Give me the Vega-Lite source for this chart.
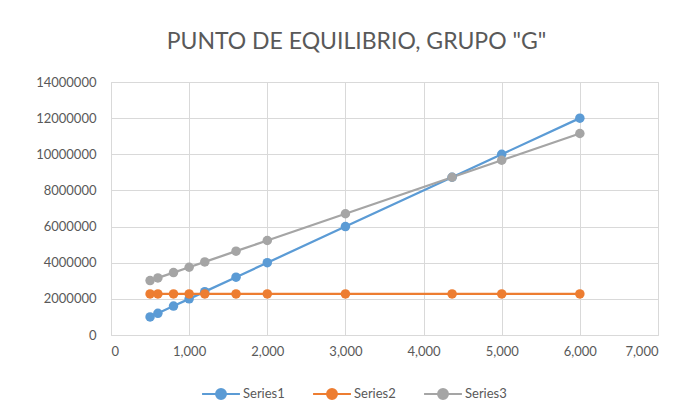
{
  "$schema": "https://vega.github.io/schema/vega-lite/v6.json",
  "autosize": {"type": "none"},
  "width": 547,
  "height": 253,
  "padding": {"left": 111, "top": 82, "right": 30, "bottom": 85},
  "background": "white",
  "title": {
    "text": "PUNTO DE EQUILIBRIO, GRUPO \"G\"",
    "font": "Lato",
    "fontSize": 23,
    "fontWeight": "normal",
    "color": "#595959",
    "anchor": "middle",
    "dx": -28,
    "offset": 22
  },
  "data": {
    "values": [
      {"x": 500, "y": 1000000, "s": "Series1"},
      {"x": 600, "y": 1200000, "s": "Series1"},
      {"x": 800, "y": 1600000, "s": "Series1"},
      {"x": 1000, "y": 2000000, "s": "Series1"},
      {"x": 1200, "y": 2400000, "s": "Series1"},
      {"x": 1600, "y": 3200000, "s": "Series1"},
      {"x": 2000, "y": 4000000, "s": "Series1"},
      {"x": 3000, "y": 6000000, "s": "Series1"},
      {"x": 4365, "y": 8730000, "s": "Series1"},
      {"x": 5000, "y": 10000000, "s": "Series1"},
      {"x": 6000, "y": 12000000, "s": "Series1"},
      {"x": 500, "y": 2270000, "s": "Series2"},
      {"x": 600, "y": 2270000, "s": "Series2"},
      {"x": 800, "y": 2270000, "s": "Series2"},
      {"x": 1000, "y": 2270000, "s": "Series2"},
      {"x": 1200, "y": 2270000, "s": "Series2"},
      {"x": 1600, "y": 2270000, "s": "Series2"},
      {"x": 2000, "y": 2270000, "s": "Series2"},
      {"x": 3000, "y": 2270000, "s": "Series2"},
      {"x": 4365, "y": 2270000, "s": "Series2"},
      {"x": 5000, "y": 2270000, "s": "Series2"},
      {"x": 6000, "y": 2270000, "s": "Series2"},
      {"x": 500, "y": 3010000, "s": "Series3"},
      {"x": 600, "y": 3158000, "s": "Series3"},
      {"x": 800, "y": 3454000, "s": "Series3"},
      {"x": 1000, "y": 3750000, "s": "Series3"},
      {"x": 1200, "y": 4046000, "s": "Series3"},
      {"x": 1600, "y": 4638000, "s": "Series3"},
      {"x": 2000, "y": 5230000, "s": "Series3"},
      {"x": 3000, "y": 6710000, "s": "Series3"},
      {"x": 4365, "y": 8730000, "s": "Series3"},
      {"x": 5000, "y": 9670000, "s": "Series3"},
      {"x": 6000, "y": 11150000, "s": "Series3"}
    ]
  },
  "mark": {
    "type": "line",
    "strokeWidth": 2.25,
    "point": {"size": 90, "filled": true, "opacity": 1}
  },
  "encoding": {
    "x": {
      "field": "x",
      "type": "quantitative",
      "scale": {"domain": [0, 7000], "nice": false},
      "axis": {
        "title": null,
        "values": [0, 1000, 2000, 3000, 4000, 5000, 6000, 7000],
        "format": ",.0f",
        "labelPadding": 10
      }
    },
    "y": {
      "field": "y",
      "type": "quantitative",
      "scale": {"domain": [0, 14000000], "nice": false},
      "axis": {
        "title": null,
        "values": [0, 2000000, 4000000, 6000000, 8000000, 10000000, 12000000, 14000000],
        "format": "d",
        "labelPadding": 15
      }
    },
    "color": {
      "field": "s",
      "type": "nominal",
      "scale": {
        "domain": ["Series1", "Series2", "Series3"],
        "range": ["#5B9BD5", "#ED7D31", "#A5A5A5"]
      },
      "legend": {
        "title": null,
        "orient": "none",
        "direction": "horizontal",
        "legendX": 97,
        "legendY": 299,
        "symbolType": "M-1.6,0H1.6M0.42,0A0.42,0.42,0,1,1,-0.42,0A0.42,0.42,0,1,1,0.42,0",
        "symbolSize": 560,
        "symbolStrokeWidth": 2,
        "symbolFillColor": null,
        "columnPadding": 24,
        "labelOffset": 9
      }
    },
    "order": {"field": "x", "type": "quantitative"}
  },
  "config": {
    "view": {"stroke": "#D9D9D9", "strokeWidth": 1},
    "axis": {
      "labelFont": "Lato",
      "labelFontSize": 13,
      "labelColor": "#595959",
      "gridColor": "#D9D9D9",
      "gridWidth": 1,
      "domain": false,
      "ticks": false
    },
    "legend": {
      "labelFont": "Lato",
      "labelFontSize": 13,
      "labelColor": "#595959"
    }
  }
}
